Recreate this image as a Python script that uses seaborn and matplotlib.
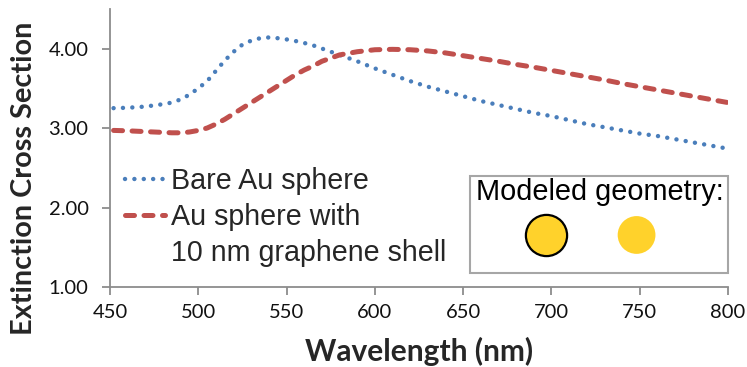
import matplotlib
matplotlib.use('Agg')
import matplotlib.pyplot as plt
import seaborn as sns
import pandas as pd
from matplotlib.lines import Line2D
from matplotlib.patches import Rectangle

wavelength = [452, 460, 470, 480, 485, 490, 495, 500, 505, 510, 515, 520, 525, 530, 535,
              540, 545, 550, 555, 560, 565, 570, 575, 580, 590, 600, 610, 620, 630, 640,
              650, 660, 670, 680, 690, 700, 710, 720, 730, 740, 750, 760, 770, 780, 790, 800]
bare_au = [3.25, 3.255, 3.27, 3.30, 3.32, 3.36, 3.42, 3.50, 3.59, 3.72, 3.85, 3.96, 4.05, 4.10, 4.13,
           4.14, 4.13, 4.115, 4.095, 4.07, 4.04, 4.00, 3.96, 3.92, 3.84, 3.75, 3.67, 3.59, 3.52, 3.46,
           3.40, 3.34, 3.29, 3.24, 3.19, 3.15, 3.10, 3.05, 3.01, 2.97, 2.93, 2.90, 2.86, 2.82, 2.78, 2.74]
au_graphene = [2.97, 2.965, 2.955, 2.945, 2.94, 2.94, 2.95, 2.97, 3.00, 3.05, 3.11, 3.18, 3.25, 3.32, 3.39,
               3.46, 3.53, 3.60, 3.67, 3.73, 3.78, 3.84, 3.88, 3.92, 3.96, 3.985, 3.99, 3.985, 3.97, 3.945,
               3.91, 3.875, 3.84, 3.80, 3.765, 3.725, 3.685, 3.645, 3.605, 3.56, 3.52, 3.48, 3.44, 3.40, 3.36, 3.32]

x_ticks = [450, 500, 550, 600, 650, 700, 750, 800]
y_ticks = [1.0, 2.0, 3.0, 4.0]

df = pd.DataFrame({'wl': wavelength, 'bare': bare_au, 'shell': au_graphene})

sns.set_style('white')
plt.rcParams['font.family'] = ['Lato', 'DejaVu Sans']

blue = '#4A7EBB'
red = '#C0504D'
yellow = '#FFD22B'
grey = '#8C8C8C'
dots = (0, (0.01, 2.1))
dashes = (0, (1.8, 1.9))

fig = plt.figure(figsize=(7.47, 3.67), dpi=100)
ax = fig.add_axes([0.1473, 0.218, 0.8273, 0.758])

sns.lineplot(data=df, x='wl', y='bare', ax=ax, color=blue, linewidth=3.2)
sns.lineplot(data=df, x='wl', y='shell', ax=ax, color=red, linewidth=3.6)
l1, l2 = ax.get_lines()[:2]
l1.set_linestyle(dots)
l1.set_dash_capstyle('round')
l2.set_linestyle(dashes)
l2.set_dash_capstyle('round')

ax.set_xlim(450, 800)
ax.set_ylim(1, 4.5)
ax.set_xticks(x_ticks)
ax.set_yticks(y_ticks)
ax.set_yticklabels([f'{v:.2f}' for v in y_ticks])
ax.tick_params(axis='both', labelsize=14.5, length=5.5, width=1.3,
               direction='out', left=True, bottom=True, colors=grey, labelcolor='#111111')
ax.tick_params(axis='y', pad=10)
ax.tick_params(axis='x', pad=7)
for s in ['top', 'right']:
    ax.spines[s].set_visible(False)
for s in ['left', 'bottom']:
    ax.spines[s].set_color(grey)
    ax.spines[s].set_linewidth(1.3)

ax.set_xlabel('Wavelength (nm)', fontsize=21.5, fontweight='bold', labelpad=11)
ax.set_ylabel('Extinction Cross Section', fontsize=20.8, fontweight='bold')
ax.yaxis.set_label_coords(-0.118, 0.392)

# legend, third row has no handle
handles = [Line2D([], [], color=blue, linewidth=3.2, linestyle=dots, dash_capstyle='round'),
           Line2D([], [], color=red, linewidth=3.6, linestyle=dashes, dash_capstyle='round'),
           Line2D([], [], color='none')]
labels = ['Bare Au sphere', 'Au sphere with', '10 nm graphene shell']
leg = ax.legend(handles, labels, loc='center left', bbox_to_anchor=(0.024, 0.252),
                frameon=False, handlelength=1.4, handletextpad=0.2, labelspacing=0.28,
                borderpad=0, borderaxespad=0,
                prop={'family': 'Liberation Sans', 'size': 20.6})

# modeled geometry inset box
ax.add_patch(Rectangle((0.5825, 0.0503), 0.4175, 0.3487, transform=ax.transAxes,
                       facecolor='white', edgecolor='#A6A6A6', linewidth=1.5, clip_on=False))
ax.text(0.793, 0.3127, 'Modeled geometry:', transform=ax.transAxes, ha='center',
        va='baseline', fontsize=20.8, family='Liberation Sans', color='black')
ax.scatter([0.7055], [0.187], s=880, color=yellow, edgecolor='black', linewidth=1.6,
           transform=ax.transAxes, clip_on=False, zorder=5)
ax.scatter([0.852], [0.187], s=740, color=yellow, edgecolor='none',
           transform=ax.transAxes, clip_on=False, zorder=5)

plt.savefig('out.png', dpi=100)
